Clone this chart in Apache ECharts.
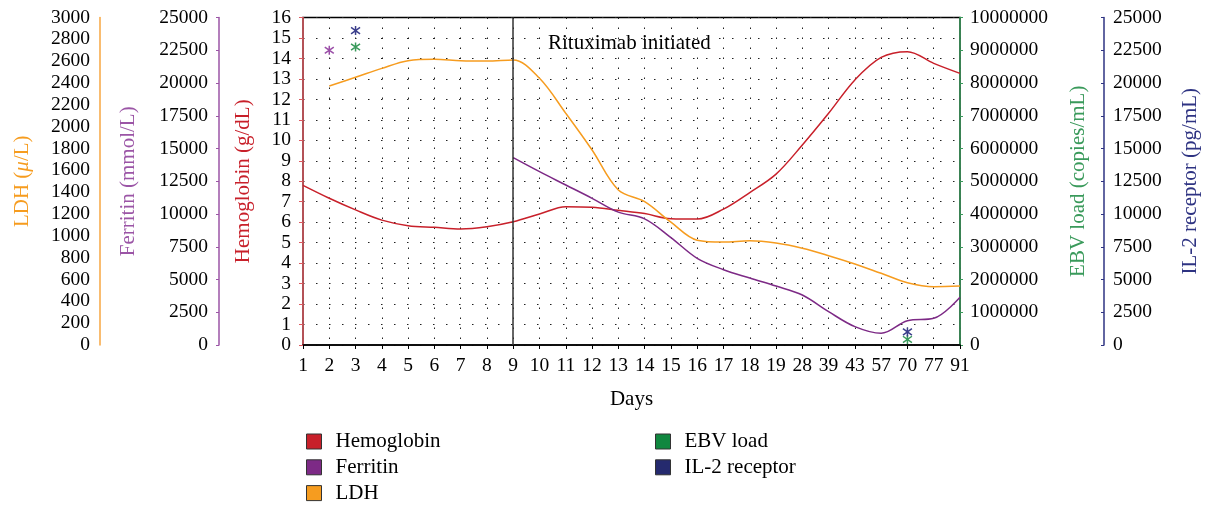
<!DOCTYPE html>
<html>
<head>
<meta charset="utf-8">
<script src="https://cdn.jsdelivr.net/npm/echarts@6/dist/echarts.min.js"></script>
<style>
html,body{margin:0;padding:0;background:#fff;}
#chart{width:1205px;height:505px;}
</style>
</head>
<body>
<div id="chart"></div>
<script>
// ---- data ----
const days = ['1','2','3','4','5','6','7','8','9','10','11','12','13','14','15','16','17','18','19','28','39','43','57','70','77','91'];
const hemoglobin = [7.8, 7.17, 6.6, 6.1, 5.83, 5.75, 5.67, 5.78, 6.02, 6.4, 6.76, 6.73, 6.58, 6.42, 6.17, 6.15, 6.64, 7.45, 8.35, 9.77, 11.32, 12.95, 14.05, 14.33, 13.76, 13.27];
const ferritin = [null, null, null, null, null, null, null, null, 14300, 13230, 12214, 11198, 10140, 9630, 8200, 6615, 5750, 5110, 4500, 3817, 2545, 1400, 890, 1855, 2035, 3640];
const ldh = [null, 2372, 2452, 2534, 2604, 2617, 2604, 2601, 2611, 2443, 2122, 1786, 1420, 1313, 1125, 960, 943, 955, 934, 886, 818, 742, 657, 571, 534, 540];
const ferritinMarks = [['2', 22500]];
const ebvMarks = [['3', 9100000], ['70', 170000]];
const il2Marks = [['3', 24000], ['70', 1000]];
const rituximabDay = '9';

const FONT = 'Liberation Serif';
const C = {
  hemo: '#c8202a', hemoAxis: '#dc5a60',
  fer: '#7d2a86', ferAxis: '#9b55a6', ferStar: '#9b4fa8',
  ldh: '#f69c1f', ldhAxis: '#f7a640',
  ebv: '#10873f', ebvAxis: '#3a9a5b',
  il2: '#252a6e', il2Axis: '#2e3382'
};
const star = 'path://M10,0L10,20M2.93,2.93L17.07,17.07M17.07,2.93L2.93,17.07';
const plain = (v) => String(v);
const lbl = (m) => ({color:'#000', fontSize:19.5, fontFamily:FONT, margin:m, formatter:plain});
const nameStyle = (c) => ({color:c, fontSize:21, fontFamily:FONT});

function yAx(o){
  return Object.assign({
    type:'value', nameLocation:'middle', nameRotate:90,
    splitLine:{show:false},
    axisLine:{show:true, lineStyle:{width:1.5}},
  }, o);
}

const legendText = {color:'#000', fontSize:21, fontFamily:FONT, padding:[0,0,0,9]};

const chart = echarts.init(document.getElementById('chart'));
chart.setOption({
  backgroundColor:'#fff',
  animation:false,
  grid:{left:303, right:245, top:17.5, bottom:160, show:true, borderColor:'#000', borderWidth:1.5,
        containLabel:false, outerBoundsMode:'none'},
  xAxis:{
    type:'category', data:days, boundaryGap:false,
    axisLine:{lineStyle:{color:'#000', width:1.5}},
    axisTick:{show:true, length:4, lineStyle:{color:'#000'}},
    axisLabel:{color:'#000', fontSize:19.5, fontFamily:FONT, margin:11, interval:0},
    splitLine:{show:true, interval:0, lineStyle:{color:'#222', width:1, type:[1.5, 8.5]}},
    name:'Days', nameLocation:'middle', nameGap:44,
    nameTextStyle:nameStyle('#000')
  },
  yAxis:[
    yAx({position:'left', offset:0, min:0, max:16, interval:1,
      axisLine:{show:true, lineStyle:{color:C.hemoAxis, width:1.5}},
      axisTick:{show:true, length:4, lineStyle:{color:C.hemoAxis}},
      axisLabel:lbl(12),
      splitLine:{show:true, lineStyle:{color:'#222', width:1, type:[1.5, 11.5]}},
      name:'Hemoglobin (g/dL)', nameGap:49, nameTextStyle:nameStyle(C.hemo)}),
    yAx({position:'left', offset:84, min:0, max:25000, interval:2500,
      axisLine:{show:true, lineStyle:{color:C.ferAxis, width:1.5}},
      axisTick:{show:true, length:3, lineStyle:{color:C.ferAxis}},
      axisLabel:lbl(11),
      name:'Ferritin (mmol/L)', nameGap:80, nameTextStyle:nameStyle(C.ferAxis)}),
    yAx({position:'left', offset:203, min:0, max:3000, interval:200,
      axisLine:{show:true, lineStyle:{color:C.ldhAxis, width:1.5}},
      axisTick:{show:false},
      axisLabel:lbl(10),
      name:'LDH ({i|μ}/L)', nameGap:67,
      nameTextStyle:Object.assign(nameStyle(C.ldh), {rich:{i:{fontStyle:'italic', color:C.ldh, fontSize:21, fontFamily:FONT}}})}),
    yAx({position:'right', offset:0, min:0, max:10000000, interval:1000000,
      axisLine:{show:true, lineStyle:{color:C.ebvAxis, width:1.5}},
      axisTick:{show:true, length:3, lineStyle:{color:C.ebvAxis}},
      axisLabel:lbl(10),
      name:'EBV load (copies/mL)', nameGap:108, nameTextStyle:nameStyle(C.ebvAxis)}),
    yAx({position:'right', offset:144, min:0, max:25000, interval:2500,
      axisLine:{show:true, lineStyle:{color:C.il2Axis, width:1.5}},
      axisTick:{show:true, inside:true, length:3, lineStyle:{color:C.il2Axis}},
      axisLabel:lbl(9),
      name:'IL-2 receptor (pg/mL)', nameGap:76, nameTextStyle:nameStyle(C.il2Axis)})
  ],
  legend:[
    {left:306, top:431, height:90, padding:0, orient:'vertical', itemWidth:15, itemHeight:15, itemGap:4.8, icon:'rect',
     textStyle:legendText,
     data:[
      {name:'Hemoglobin', itemStyle:{color:C.hemo, opacity:1, borderColor:'#333', borderWidth:1}},
      {name:'Ferritin', itemStyle:{color:C.fer, opacity:1, borderColor:'#333', borderWidth:1}},
      {name:'LDH', itemStyle:{color:C.ldh, opacity:1, borderColor:'#333', borderWidth:1}}
     ]},
    {left:655, top:431, height:90, padding:0, orient:'vertical', itemWidth:15, itemHeight:15, itemGap:4.8, icon:'rect',
     textStyle:legendText,
     data:[
      {name:'EBV load', itemStyle:{color:C.ebv, opacity:1, borderColor:'#333', borderWidth:1}},
      {name:'IL-2 receptor', itemStyle:{color:C.il2, opacity:1, borderColor:'#333', borderWidth:1}}
     ]}
  ],
  graphic:[
    {type:'text', left:548, top:33, style:{text:'Rituximab initiated', fontSize:21, fontFamily:FONT, fill:'#000'}}
  ],
  series:[
    {name:'Hemoglobin', type:'line', yAxisIndex:0, data:hemoglobin, smooth:0.35, showSymbol:false,
     lineStyle:{color:C.hemo, width:1.5}, itemStyle:{color:C.hemo},
     markLine:{silent:true, symbol:['none','none'], label:{show:false},
       lineStyle:{color:'#333', type:'solid', width:1.5}, data:[{xAxis:rituximabDay}]}},
    {name:'Ferritin', type:'line', yAxisIndex:1, data:ferritin, smooth:0.35, showSymbol:false,
     lineStyle:{color:C.fer, width:1.5}, itemStyle:{color:C.fer}},
    {name:'LDH', type:'line', yAxisIndex:2, data:ldh, smooth:0.35, showSymbol:false,
     lineStyle:{color:C.ldh, width:1.5}, itemStyle:{color:C.ldh}},
    {name:'Ferritin mark', type:'scatter', yAxisIndex:1, data:ferritinMarks, symbol:star, symbolSize:9,
     itemStyle:{color:'none', opacity:1, borderColor:C.ferStar, borderWidth:1.5}},
    {name:'EBV load', type:'scatter', yAxisIndex:3, data:ebvMarks, symbol:star, symbolSize:9,
     itemStyle:{color:'none', opacity:1, borderColor:'#3a9a5b', borderWidth:1.5}},
    {name:'IL-2 receptor', type:'scatter', yAxisIndex:4, data:il2Marks, symbol:star, symbolSize:9,
     itemStyle:{color:'none', opacity:1, borderColor:'#3c3f8c', borderWidth:1.5}}
  ]
});
</script>
</body>
</html>
